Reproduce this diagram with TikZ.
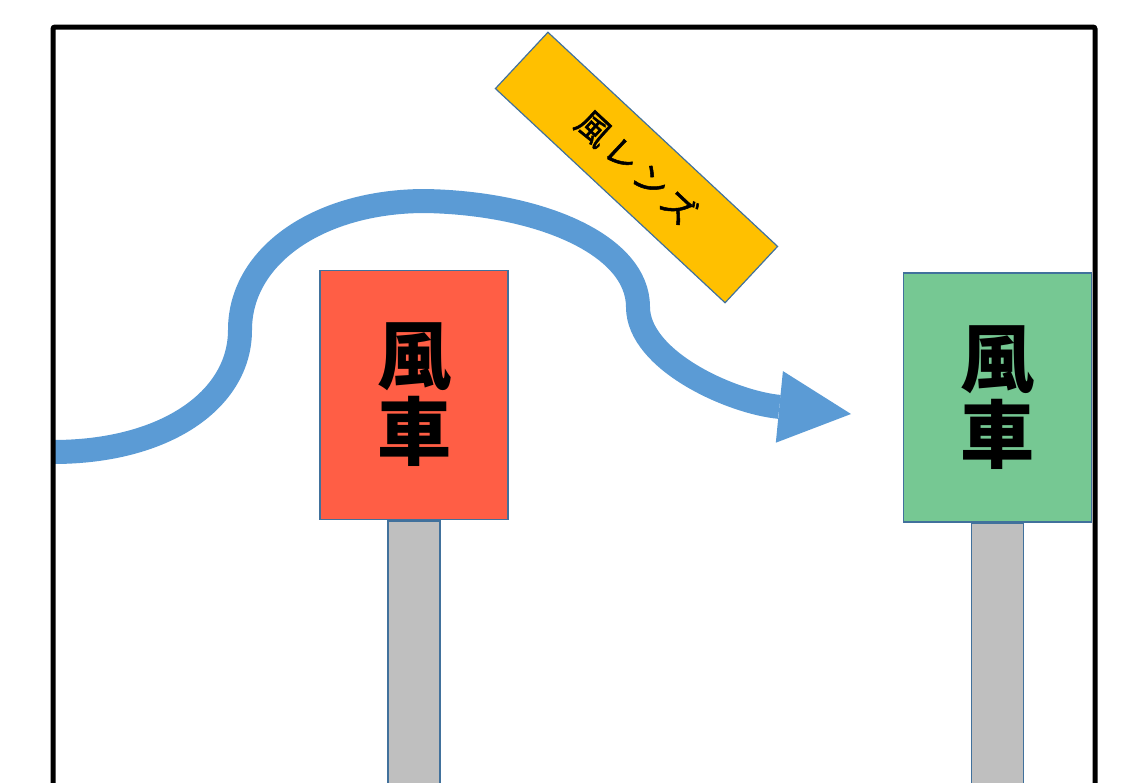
\documentclass[tikz,border=0pt]{standalone}
\usepackage{fontspec}
\newfontfamily\cjk{Noto Sans CJK JP}
\usetikzlibrary{positioning,arrows.meta}
\definecolor{flowBlue}{HTML}{5B9BD5}
\definecolor{edgeBlue}{HTML}{41719C}
\definecolor{millRed}{HTML}{FF5E45}
\definecolor{millGreen}{HTML}{76C893}
\definecolor{lensYellow}{HTML}{FFC000}
\definecolor{poleGrey}{HTML}{BFBFBF}
\begin{document}
\begin{tikzpicture}[x=1pt,y=-1pt,
  millBox/.style={draw=edgeBlue,line width=1.5pt,minimum width=188pt,minimum height=249pt,
    inner sep=0pt,align=center,font=\cjk\bfseries\fontsize{74}{76}\selectfont},
  poleBar/.style={draw=edgeBlue,fill=poleGrey,line width=1.5pt,minimum width=52pt,
    minimum height=300pt,inner sep=0pt},
  lensBox/.style={draw=edgeBlue,fill=lensYellow,line width=1.2pt,minimum width=314pt,
    minimum height=77pt,inner sep=0pt,rotate=-43,
    font=\cjk\fontsize{34}{36}\selectfont\addfontfeature{LetterSpace=14,FakeBold=1.5}},
  flow/.style={draw=flowBlue,line width=24pt,-{Triangle[length=72pt,width=72pt,line width=0pt]}}
]
    \newcommand{\millText}{
        風\\車
    }
  \useasboundingbox (0,0) rectangle (1127,782);
  \clip (0,0) rectangle (1127,782);

  % wind path
  \coordinate (flowIn) at (53,452);
  \coordinate (flowUp) at (240,330);
  \coordinate (flowTop) at (425,201);
  \coordinate (flowDown) at (638,307);
  \coordinate (flowTip) at (851,414);
  \draw[flow] (flowIn) .. controls (165,452) and (240,400) .. (flowUp)
    .. controls (240,255) and (320,201) .. (flowTop)
    .. controls (540,203) and (638,245) .. (flowDown)
    .. controls (638,360) and (730,402) .. (flowTip);

  % lens
  \node[lensBox] (lens) at (636.5,167.5) {風レンズ};

  % mills
  \node[millBox,fill=millRed] (redMill) at (414,395) {\millText};
  \node[poleBar,below=0pt of redMill] (redPole) {};
  \node[millBox,fill=millGreen] (greenMill) at (997.5,397.5) {\millText};
  \node[poleBar,below=0pt of greenMill] (greenPole) {};

  % frame
  \draw[line width=5pt,rounded corners=2pt] (53,27) rectangle (1095,900);
\end{tikzpicture}
\end{document}
